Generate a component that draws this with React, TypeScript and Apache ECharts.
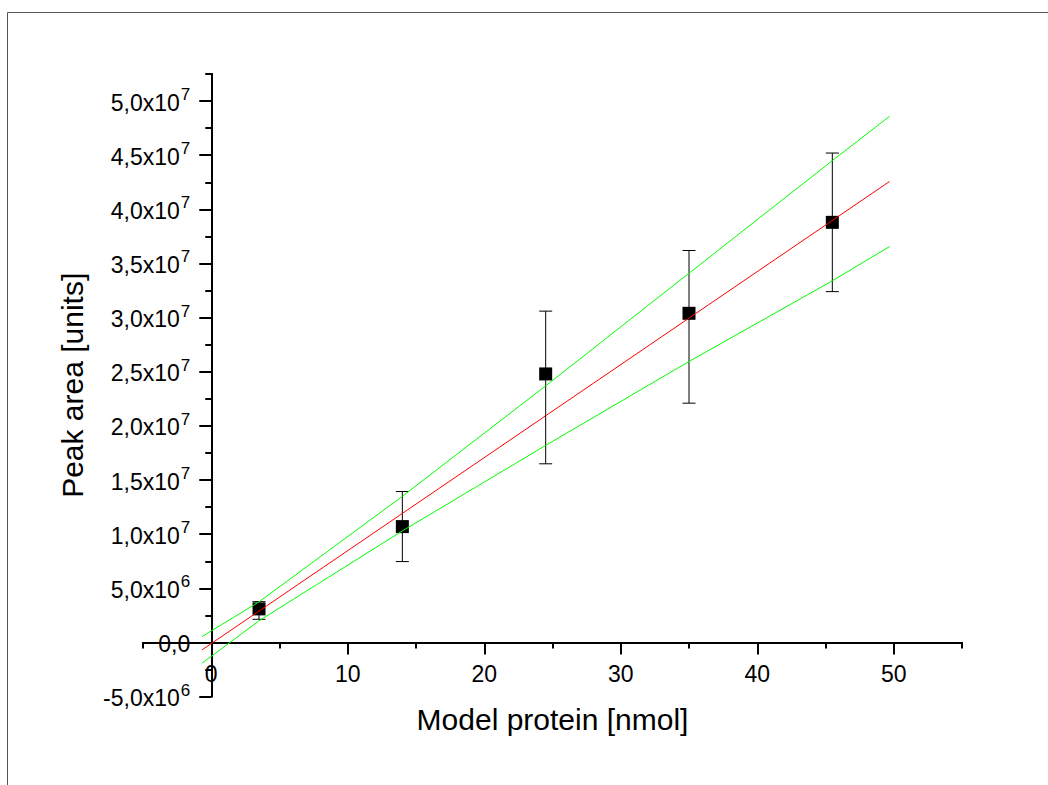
import React, { useEffect, useRef } from "react";
import * as echarts from "echarts";

// Data (x in nmol, y in units)
const xValues = [3.5, 14, 24.5, 35, 45.5];
const yMeans = [3.1e6, 10.7e6, 24.8e6, 30.4e6, 38.8e6];
const errLow = [2.14e6, 7.47e6, 16.5e6, 22.1e6, 32.4e6];
const errHigh = [3.77e6, 13.94e6, 30.6e6, 36.2e6, 45.2e6];

const fitX = [-0.68, 49.7];
const fitY = [-0.69e6, 42.58e6];

const bandX = [-0.68, 3.5, 14, 24.5, 35, 45.5, 49.7];
const bandUpper = [0.54e6, 3.75e6, 13.5e6, 23.7e6, 34.1e6, 44.5e6, 48.6e6];
const bandLower = [-1.92e6, 2.0e6, 10.3e6, 18.2e6, 25.95e6, 33.4e6, 36.57e6];

const xMajorTicks = [0, 10, 20, 30, 40, 50];
const yMajorTicks = [-5e6, 0, 5e6, 10e6, 15e6, 20e6, 25e6, 30e6, 35e6, 40e6, 45e6, 50e6];

const X_MIN = -5;
const X_MAX = 55;
const Y_MIN = -5e6;
const Y_MAX = 52.5e6;

const FONT = "'Liberation Sans', Arial, Helvetica, sans-serif";

function fmtY(v: number): string {
  if (Math.abs(v) < 1) return "{b|0,0}";
  const e = Math.floor(Math.log10(Math.abs(v)) + 1e-9);
  const m = v / Math.pow(10, e);
  return "{b|" + m.toFixed(1).replace(".", ",") + "x10}{s|" + e + "}";
}

export default function App() {
  const ref = useRef<HTMLDivElement>(null);
  useEffect(() => {
    if (!ref.current) return;
    const chart = echarts.init(ref.current, null, { renderer: "svg" });
    const W = 1048;
    const H = 785;
    const gridLeft = 143;
    const gridRight = 86;
    const gridTop = 74;
    const gridBottom = 88.4;
    const gw = W - gridLeft - gridRight;
    const gh = H - gridTop - gridBottom;
    // shift axes so they cross at zero (labels follow the lines)
    const xOffset = -((0 - Y_MIN) / (Y_MAX - Y_MIN)) * gh;
    const yOffset = -((0 - X_MIN) / (X_MAX - X_MIN)) * gw;
    const axisLineStyle = { color: "#000", width: 2 };
    const option: any = {
      animation: false,
      backgroundColor: "#fff",
      grid: { left: gridLeft, right: gridRight, top: gridTop, bottom: gridBottom, containLabel: false, outerBoundsMode: "none" },
      graphic: [
        {
          type: "rect",
          silent: true,
          z: -10,
          shape: { x: 7.5, y: 12.5, width: 2000, height: 2000 },
          style: { fill: "none", stroke: "#555", lineWidth: 1 },
        },
      ],
      xAxis: [
        {
          type: "value",
          min: X_MIN,
          max: X_MAX,
          position: "bottom",
          offset: xOffset,
          axisLine: { show: true, onZero: false, lineStyle: axisLineStyle },
          axisTick: { show: true, customValues: xMajorTicks, length: 12, lineStyle: axisLineStyle },
          axisLabel: { customValues: xMajorTicks, margin: 20, fontSize: 23, color: "#000", fontFamily: FONT },
          splitLine: { show: false },
          name: "Model protein [nmol]",
          nameLocation: "middle",
          nameGap: 62,
          nameTextStyle: { fontSize: 30, color: "#000", fontFamily: FONT },
        },
        {
          type: "value",
          min: X_MIN,
          max: X_MAX,
          interval: 5,
          position: "bottom",
          offset: xOffset,
          axisLine: { show: true, onZero: false, lineStyle: axisLineStyle },
          axisTick: { show: true, length: 6, lineStyle: axisLineStyle },
          axisLabel: { show: false },
          splitLine: { show: false },
        },
      ],
      yAxis: [
        {
          type: "value",
          min: Y_MIN,
          max: Y_MAX,
          position: "left",
          offset: yOffset,
          axisLine: { show: true, onZero: false, lineStyle: axisLineStyle },
          axisTick: { show: true, customValues: yMajorTicks, length: 12, lineStyle: axisLineStyle },
          axisLabel: {
            customValues: yMajorTicks,
            margin: 21,
            color: "#000",
            fontFamily: FONT,
            formatter: (v: number) => fmtY(v),
            rich: {
              b: { fontSize: 23, color: "#000", fontFamily: FONT, lineHeight: 26, verticalAlign: "bottom" },
              s: { fontSize: 17, color: "#000", fontFamily: FONT, lineHeight: 17, verticalAlign: "bottom", padding: [0, 0, 11, 1] },
            },
          },
          splitLine: { show: false },
          name: "Peak area [units]",
          nameLocation: "middle",
          nameRotate: 90,
          nameGap: 124,
          nameTextStyle: { fontSize: 30, color: "#000", fontFamily: FONT },
        },
        {
          type: "value",
          min: Y_MIN,
          max: Y_MAX,
          interval: 2.5e6,
          position: "left",
          offset: yOffset,
          axisLine: { show: true, onZero: false, lineStyle: axisLineStyle },
          axisTick: { show: true, length: 6, lineStyle: axisLineStyle },
          axisLabel: { show: false },
          splitLine: { show: false },
        },
      ],
      series: [
        {
          type: "custom",
          xAxisIndex: 0,
          yAxisIndex: 0,
          z: 2,
          encode: { x: 0, y: [1, 2] },
          data: xValues.map((x, i) => [x, errLow[i], errHigh[i]]),
          renderItem: (params: any, api: any) => {
            const x = api.value(0);
            const top = api.coord([x, api.value(2)]);
            const bot = api.coord([x, api.value(1)]);
            const half = 6.5;
            const st = { stroke: "#000", lineWidth: 1 };
            return {
              type: "group",
              children: [
                { type: "line", shape: { x1: top[0], y1: top[1], x2: bot[0], y2: bot[1] }, style: st },
                { type: "line", shape: { x1: top[0] - half, y1: top[1], x2: top[0] + half, y2: top[1] }, style: st },
                { type: "line", shape: { x1: bot[0] - half, y1: bot[1], x2: bot[0] + half, y2: bot[1] }, style: st },
              ],
            };
          },
        },
        {
          type: "scatter",
          xAxisIndex: 0,
          yAxisIndex: 0,
          z: 3,
          symbol: "rect",
          symbolSize: 13,
          itemStyle: { color: "#000", opacity: 1 },
          data: xValues.map((x, i) => [x, yMeans[i]]),
        },
        {
          type: "line",
          xAxisIndex: 0,
          yAxisIndex: 0,
          z: 4,
          showSymbol: false,
          symbol: "none",
          lineStyle: { color: "#ff0000", width: 1 },
          data: fitX.map((x, i) => [x, fitY[i]]),
        },
        {
          type: "line",
          xAxisIndex: 0,
          yAxisIndex: 0,
          z: 4,
          showSymbol: false,
          symbol: "none",
          lineStyle: { color: "#00ff00", width: 1 },
          data: bandX.map((x, i) => [x, bandUpper[i]]),
        },
        {
          type: "line",
          xAxisIndex: 0,
          yAxisIndex: 0,
          z: 4,
          showSymbol: false,
          symbol: "none",
          lineStyle: { color: "#00ff00", width: 1 },
          data: bandX.map((x, i) => [x, bandLower[i]]),
        },
      ],
    };
    chart.setOption(option);
    return () => chart.dispose();
  }, []);
  return (
    <div
      ref={ref}
      style={{ position: "absolute", left: 0, top: 0, width: 1048, height: 785, background: "#fff" }}
    />
  );
}
